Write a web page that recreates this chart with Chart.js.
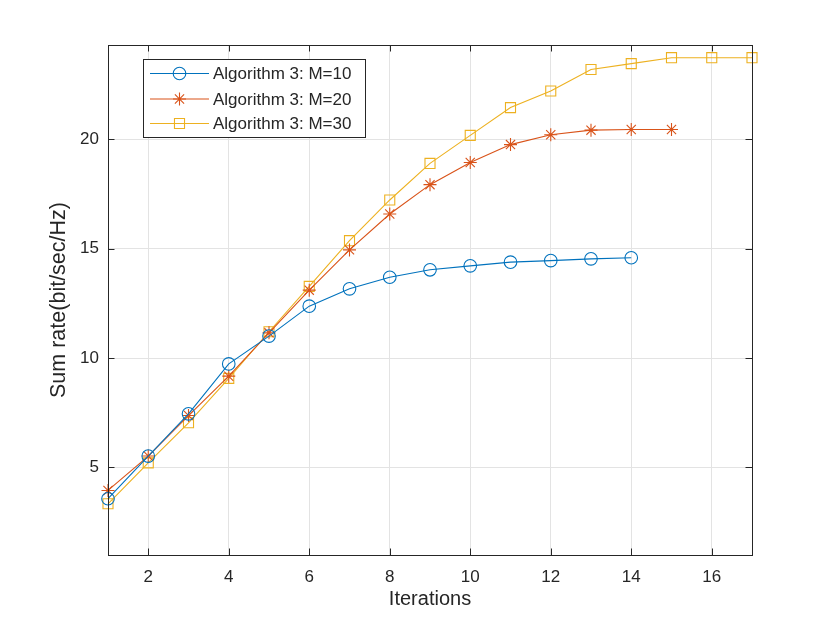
<!DOCTYPE html>
<html>
<head>
<meta charset="utf-8">
<script src="https://cdn.jsdelivr.net/npm/chart.js@4.4.1/dist/chart.umd.min.js"></script>
<style>
  html, body { margin: 0; padding: 0; background: #fff; }
  #wrap { width: 830px; height: 623px; }
</style>
</head>
<body>
<div id="wrap"><canvas id="c" width="830" height="623"></canvas></div>
<script>
// data
var iterations = [1, 2, 3, 4, 5, 6, 7, 8, 9, 10, 11, 12, 13, 14, 15, 16, 17];
var rateM10 = [3.57, 5.52, 7.45, 9.73, 11.0, 12.37, 13.16, 13.69, 14.03, 14.21, 14.38, 14.45, 14.53, 14.58];
var rateM20 = [3.95, 5.52, 7.37, 9.17, 11.15, 13.1, 14.94, 16.58, 17.92, 18.93, 19.75, 20.2, 20.41, 20.44, 20.44];
var rateM30 = [3.34, 5.21, 7.04, 9.07, 11.2, 13.27, 15.36, 17.22, 18.89, 20.17, 21.44, 22.2, 23.18, 23.45, 23.72, 23.72, 23.72];
var seriesLabels = ['Algorithm 3: M=10', 'Algorithm 3: M=20', 'Algorithm 3: M=30'];
var xTicks = [2, 4, 6, 8, 10, 12, 14, 16];
var yTicks = [5, 10, 15, 20];

var FONT = '"Liberation Sans", Arial, Helvetica, sans-serif';
var INK = '#262626';

function toPoints(vals) {
    return vals.map(function (v, i) { return { x: iterations[i], y: v }; });
}

function series(label, vals, color, style, radius) {
    return {
        label: label,
        data: toPoints(vals),
        borderColor: color,
        backgroundColor: 'rgba(0,0,0,0)',
        borderWidth: 1.1,
        pointStyle: style,
        pointRadius: radius,
        pointHoverRadius: radius,
        pointBorderColor: color,
        pointBackgroundColor: 'rgba(0,0,0,0)',
        pointBorderWidth: 1.1,
        tension: 0,
        clip: 10
    };
}

// matlab style box + inward ticks
var axesBox = {
    id: 'axesBox',
    afterDraw: function (chart) {
        var a = chart.chartArea, ctx = chart.ctx;
        var xs = chart.scales.x, ys = chart.scales.y;
        var t = 6.5;
        ctx.save();
        ctx.strokeStyle = INK;
        ctx.lineWidth = 1;
        ctx.strokeRect(a.left + 0.5, a.top + 0.5, a.right - a.left, a.bottom - a.top);
        ctx.beginPath();
        xTicks.forEach(function (v) {
            var px = Math.round(xs.getPixelForValue(v)) + 0.5;
            ctx.moveTo(px, a.bottom); ctx.lineTo(px, a.bottom - t);
            ctx.moveTo(px, a.top); ctx.lineTo(px, a.top + t);
        });
        yTicks.forEach(function (v) {
            var py = Math.round(ys.getPixelForValue(v)) + 0.5;
            ctx.moveTo(a.left, py); ctx.lineTo(a.left + t, py);
            ctx.moveTo(a.right, py); ctx.lineTo(a.right - t, py);
        });
        ctx.stroke();
        ctx.restore();
    }
};

// legend box drawn inside the axes, upper left
var boxLegend = {
    id: 'boxLegend',
    afterDraw: function (chart) {
        var ctx = chart.ctx;
        var x0 = 143, y0 = 59, w = 222, h = 78;
        var rows = [73.5, 99, 123.5];
        ctx.save();
        ctx.fillStyle = '#fff';
        ctx.fillRect(x0, y0, w, h);
        ctx.strokeStyle = INK;
        ctx.lineWidth = 1;
        ctx.strokeRect(x0 + 0.5, y0 + 0.5, w, h);
        chart.data.datasets.forEach(function (ds, i) {
            var y = rows[i];
            ctx.strokeStyle = ds.borderColor;
            ctx.lineWidth = 1.1;
            ctx.beginPath();
            ctx.moveTo(150, y); ctx.lineTo(209, y);
            ctx.stroke();
            ctx.fillStyle = 'rgba(0,0,0,0)';
            Chart.helpers.drawPoint(ctx, {
                pointStyle: ds.pointStyle,
                radius: ds.pointRadius,
                borderWidth: 1.1,
                rotation: 0
            }, 179.5, y);
            ctx.fillStyle = INK;
            ctx.font = '17px ' + FONT;
            ctx.textBaseline = 'middle';
            ctx.textAlign = 'left';
            ctx.fillText(ds.label, 213, y + 1);
        });
        ctx.restore();
    }
};

var ctx = document.getElementById('c').getContext('2d');
var chart = new Chart(ctx, {
    type: 'line',
    data: {
        datasets: [
            series(seriesLabels[0], rateM10, '#0072BD', 'circle', 6.3),
            series(seriesLabels[1], rateM20, '#D95319', 'star', 6.5),
            series(seriesLabels[2], rateM30, '#EDB120', 'rect', 7.1)
        ]
    },
    options: {
        responsive: false,
        animation: false,
        events: [],
        layout: { padding: { top: 45, right: 78, left: 0, bottom: 0 } },
        plugins: {
            legend: { display: false },
            tooltip: { enabled: false }
        },
        scales: {
            x: {
                type: 'linear',
                min: 1,
                max: 17,
                afterBuildTicks: function (s) {
                    s.ticks = xTicks.map(function (v) { return { value: v }; });
                },
                afterFit: function (s) { s.height = 68; },
                grid: { color: '#e3e3e3', lineWidth: 1, drawTicks: false },
                border: { display: false },
                ticks: {
                    color: INK,
                    padding: 12,
                    maxRotation: 0,
                    font: { family: FONT, size: 17 }
                },
                title: {
                    display: true,
                    text: 'Iterations',
                    color: INK,
                    font: { family: FONT, size: 20 },
                    padding: { top: 0, bottom: 12 }
                }
            },
            y: {
                type: 'linear',
                min: 1,
                max: 24.3,
                afterBuildTicks: function (s) {
                    s.ticks = yTicks.map(function (v) { return { value: v }; });
                },
                afterFit: function (s) { s.width = 108; },
                grid: { color: '#e3e3e3', lineWidth: 1, drawTicks: false },
                border: { display: false },
                ticks: {
                    color: INK,
                    padding: 9,
                    font: { family: FONT, size: 17 }
                },
                title: {
                    display: true,
                    text: 'Sum rate(bit/sec/Hz)',
                    color: INK,
                    font: { family: FONT, size: 21.5 },
                    padding: { top: 46, bottom: 0 }
                }
            }
        }
    },
    plugins: [axesBox, boxLegend]
});
</script>
</body>
</html>
